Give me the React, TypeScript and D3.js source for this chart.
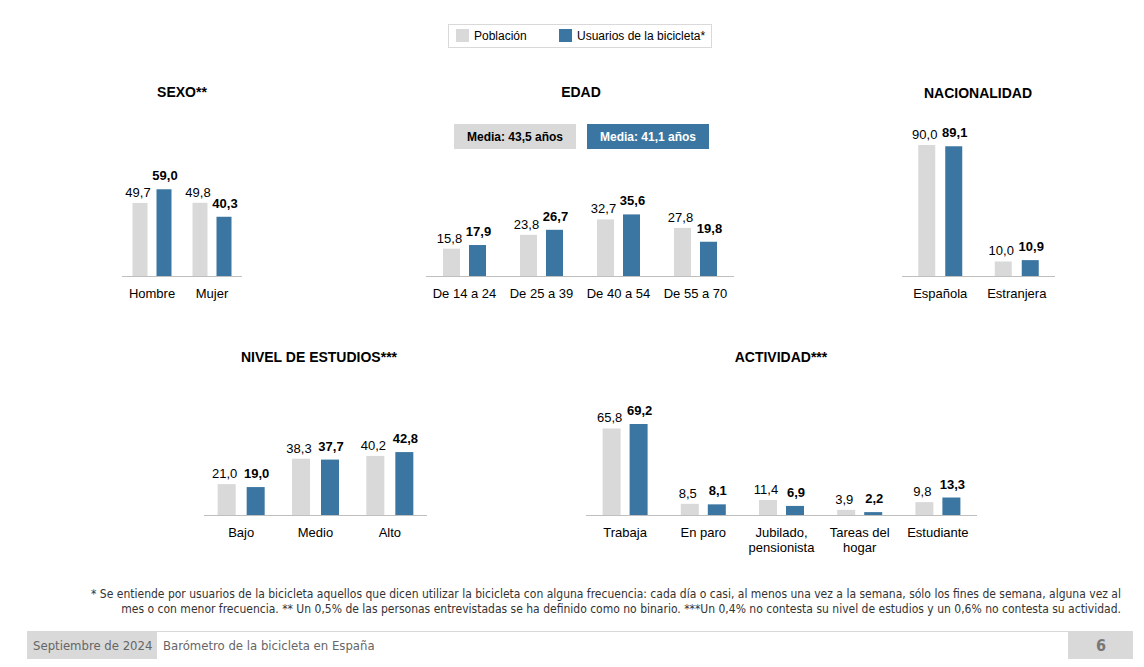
import React from "react";
import * as d3 from "d3";

const GREY = "#d9d9d9";
const BLUE = "#3a76a1";

const sexoCats = ["Hombre", "Mujer"];
const sexoPob = [49.7, 49.8];
const sexoUsu = [59.0, 40.3];

const edadCats = ["De 14 a 24", "De 25 a 39", "De 40 a 54", "De 55 a 70"];
const edadPob = [15.8, 23.8, 32.7, 27.8];
const edadUsu = [17.9, 26.7, 35.6, 19.8];

const nacCats = ["Española", "Estranjera"];
const nacPob = [90.0, 10.0];
const nacUsu = [89.1, 10.9];

const estCats = ["Bajo", "Medio", "Alto"];
const estPob = [21.0, 38.3, 40.2];
const estUsu = [19.0, 37.7, 42.8];

const actCats = ["Trabaja", "En paro", "Jubilado,\npensionista", "Tareas del\nhogar", "Estudiante"];
const actPob = [65.8, 8.5, 11.4, 3.9, 9.8];
const actUsu = [69.2, 8.1, 6.9, 2.2, 13.3];

const fmt = (v: number) => v.toFixed(1).replace(".", ",");
const FONT = "Liberation Sans, Arial, sans-serif";

type PanelProps = {
  title: string; titleX: number; titleY: number;
  cats: string[]; pob: number[]; usu: number[];
  x0: number; x1: number; base: number; ppu: number; bw: number; gap: number;
};

function Panel(p: PanelProps) {
  const x = d3.scaleBand<string>().domain(p.cats).range([p.x0, p.x1]).padding(0);
  const y = d3.scaleLinear().domain([0, 100]).range([p.base, p.base - 100 * p.ppu]);
  const inner = d3.scaleBand<string>().domain(["p", "u"]).range([0, p.bw * 2 + p.gap]).paddingInner(p.gap / (p.bw + p.gap));
  const w = inner.bandwidth();
  return (
    <g>
      <text x={p.titleX} y={p.titleY} textAnchor="middle" fontWeight="bold" fontSize={14}>{p.title}</text>
      {p.cats.map((c, i) => {
        const start = (x(c) as number) + x.bandwidth() / 2 - (p.bw * 2 + p.gap) / 2;
        const xp = start + (inner("p") as number);
        const xu = start + (inner("u") as number);
        const lines = c.split("\n");
        return (
          <g key={c}>
            <rect x={xp} y={y(p.pob[i])} width={w} height={p.base - y(p.pob[i])} fill={GREY} />
            <rect x={xu} y={y(p.usu[i])} width={w} height={p.base - y(p.usu[i])} fill={BLUE} />
            <text x={xp + w / 2 - 2} y={y(p.pob[i]) - 6} textAnchor="middle" fontSize={13}>{fmt(p.pob[i])}</text>
            <text x={xu + w / 2 + 1} y={y(p.usu[i]) - 9} textAnchor="middle" fontSize={13} fontWeight="bold">{fmt(p.usu[i])}</text>
            {lines.map((l, k) => (
              <text key={k} x={(x(c) as number) + x.bandwidth() / 2} y={p.base + 22 + k * 15} textAnchor="middle" fontSize={13}>{l}</text>
            ))}
          </g>
        );
      })}
      <line x1={p.x0} x2={p.x1} y1={p.base + 0.5} y2={p.base + 0.5} stroke="#bfbfbf" />
    </g>
  );
}

export default function App() {
  return (
    <svg width={1144} height={667} style={{ position: "absolute", left: 0, top: 0, background: "#fff" }} fontFamily={FONT}>
      <rect x={448.5} y={24.5} width={263} height={23} fill="#fff" stroke="#d9d9d9" />
      <rect x={456} y={29} width={13} height={13} fill={GREY} />
      <text x={474} y={40} fontSize={12}>Población</text>
      <rect x={559} y={29} width={13} height={13} fill={BLUE} />
      <text x={577} y={40} fontSize={12}>Usuarios de la bicicleta*</text>

      <Panel title="SEXO**" titleX={182} titleY={97} cats={sexoCats} pob={sexoPob} usu={sexoUsu} x0={122} x1={242} base={276} ppu={1.47} bw={15} gap={9} />
      <Panel title="EDAD" titleX={581} titleY={97} cats={edadCats} pob={edadPob} usu={edadUsu} x0={426} x1={734} base={276} ppu={1.73} bw={17} gap={9} />
      <Panel title="NACIONALIDAD" titleX={978} titleY={98} cats={nacCats} pob={nacPob} usu={nacUsu} x0={902} x1={1055} base={276} ppu={1.456} bw={17} gap={10} />
      <Panel title="NIVEL DE ESTUDIOS***" titleX={319} titleY={362} cats={estCats} pob={estPob} usu={estUsu} x0={204} x1={427} base={515} ppu={1.47} bw={18} gap={11} />
      <Panel title="ACTIVIDAD***" titleX={781} titleY={362} cats={actCats} pob={actPob} usu={actUsu} x0={586} x1={977} base={515} ppu={1.315} bw={18} gap={9} />

      <rect x={454} y={124} width={122} height={25} fill={GREY} />
      <text x={515} y={141} textAnchor="middle" fontSize={12} fontWeight="bold">Media: 43,5 años</text>
      <rect x={587} y={124} width={122} height={25} fill={BLUE} />
      <text x={648} y={141} textAnchor="middle" fontSize={12} fontWeight="bold" fill="#fff">Media: 41,1 años</text>

      <g fontFamily="'Liberation Sans Narrow', 'DejaVu Sans Condensed', sans-serif" fontSize={12} fill="#333">
        <text x={1121} y={598} textAnchor="end">* Se entiende por usuarios de la bicicleta aquellos que dicen utilizar la bicicleta con alguna frecuencia: cada día o casi, al menos una vez a la semana, sólo los fines de semana, alguna vez al</text>
        <text x={1121} y={613} textAnchor="end">mes o con menor frecuencia. ** Un 0,5% de las personas entrevistadas se ha definido como no binario. ***Un 0,4% no contesta su nivel de estudios y un 0,6% no contesta su actividad.</text>
      </g>

      <line x1={27} x2={1133} y1={631.5} y2={631.5} stroke="#d9d9d9" />
      <rect x={27} y={632} width={130} height={27} fill={GREY} />
      <rect x={1068} y={632} width={65} height={27} fill={GREY} />
      <g fontFamily="'Liberation Sans Narrow', 'DejaVu Sans Condensed', sans-serif" fontSize={13} fill="#666">
        <text x={33} y={650}>Septiembre de 2024</text>
        <text x={163} y={650}>Barómetro de la bicicleta en España</text>
        <text x={1101} y={651} textAnchor="middle" fontSize={16} fontWeight="bold" fill="#777">6</text>
      </g>
    </svg>
  );
}
